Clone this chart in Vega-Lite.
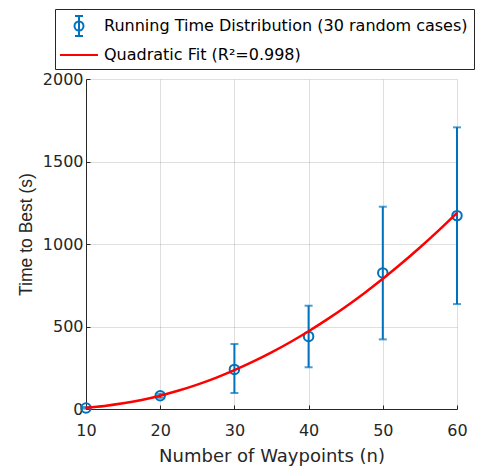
{
  "$schema": "https://vega.github.io/schema/vega-lite/v6.json",
  "width": 371,
  "height": 330,
  "autosize": "none",
  "padding": {"left": 86, "top": 79, "right": 24, "bottom": 57},
  "background": "white",
  "config": {
    "view": {"stroke": null},
    "axis": {
      "gridColor": "#262626",
      "gridOpacity": 0.15,
      "domainColor": "#262626",
      "tickColor": "#262626",
      "labelColor": "#262626",
      "titleColor": "#262626",
      "labelFont": "DejaVu Sans",
      "labelFontSize": 16,
      "labelFlush": false,
      "titleFontWeight": "normal"
    }
  },
  "datasets": {
    "runs": [
      {"n": 10, "mean": 6, "lo": 2, "hi": 12, "series": "Running Time Distribution (30 random cases)"},
      {"n": 20, "mean": 80, "lo": 68, "hi": 92, "series": "Running Time Distribution (30 random cases)"},
      {"n": 30, "mean": 240, "lo": 97, "hi": 394, "series": "Running Time Distribution (30 random cases)"},
      {"n": 40, "mean": 440, "lo": 253, "hi": 626, "series": "Running Time Distribution (30 random cases)"},
      {"n": 50, "mean": 825, "lo": 422, "hi": 1226, "series": "Running Time Distribution (30 random cases)"},
      {"n": 60, "mean": 1172, "lo": 636, "hi": 1707, "series": "Running Time Distribution (30 random cases)"}
    ],
    "fit": [
      {"n": 10, "t": 8.3, "series": "Quadratic Fit (R²=0.998)"},
      {"n": 12.5, "t": 18.8, "series": "Quadratic Fit (R²=0.998)"},
      {"n": 15, "t": 34.3, "series": "Quadratic Fit (R²=0.998)"},
      {"n": 17.5, "t": 55.0, "series": "Quadratic Fit (R²=0.998)"},
      {"n": 20, "t": 80.8, "series": "Quadratic Fit (R²=0.998)"},
      {"n": 22.5, "t": 111.7, "series": "Quadratic Fit (R²=0.998)"},
      {"n": 25, "t": 147.7, "series": "Quadratic Fit (R²=0.998)"},
      {"n": 27.5, "t": 188.8, "series": "Quadratic Fit (R²=0.998)"},
      {"n": 30, "t": 235.1, "series": "Quadratic Fit (R²=0.998)"},
      {"n": 32.5, "t": 286.5, "series": "Quadratic Fit (R²=0.998)"},
      {"n": 35, "t": 342.9, "series": "Quadratic Fit (R²=0.998)"},
      {"n": 37.5, "t": 404.5, "series": "Quadratic Fit (R²=0.998)"},
      {"n": 40, "t": 471.2, "series": "Quadratic Fit (R²=0.998)"},
      {"n": 42.5, "t": 543.0, "series": "Quadratic Fit (R²=0.998)"},
      {"n": 45, "t": 619.9, "series": "Quadratic Fit (R²=0.998)"},
      {"n": 47.5, "t": 701.9, "series": "Quadratic Fit (R²=0.998)"},
      {"n": 50, "t": 789.1, "series": "Quadratic Fit (R²=0.998)"},
      {"n": 52.5, "t": 881.4, "series": "Quadratic Fit (R²=0.998)"},
      {"n": 55, "t": 978.7, "series": "Quadratic Fit (R²=0.998)"},
      {"n": 57.5, "t": 1081.2, "series": "Quadratic Fit (R²=0.998)"},
      {"n": 60, "t": 1188.9, "series": "Quadratic Fit (R²=0.998)"}
    ]
  },
  "encoding": {
    "color": {
      "field": "series",
      "type": "nominal",
      "scale": {
        "domain": ["Running Time Distribution (30 random cases)", "Quadratic Fit (R²=0.998)"],
        "range": ["#0072BD", "#FF0000"]
      },
      "legend": {
        "title": null,
        "orient": "none",
        "legendX": -31,
        "legendY": -70,
        "direction": "vertical",
        "strokeColor": "#262626",
        "fillColor": "white",
        "padding": 6,
        "symbolOffset": 7,
        "labelOffset": 14,
        "rowPadding": 4,
        "symbolSize": 400,
        "symbolStrokeWidth": 2,
        "symbolFillColor": "transparent",
        "labelFont": "DejaVu Sans",
        "labelFontSize": 16,
        "labelColor": "#000000",
        "labelLimit": 0,
        "encode": {
          "symbols": {
            "update": {
              "shape": {"signal": "datum.index === 0 ? 'M0,-1V1M-0.4,-1H0.4M-0.4,1H0.4M0.45,0A0.45,0.45,0,1,1,-0.45,0A0.45,0.45,0,1,1,0.45,0' : 'M-1.9,0H1.9'"},
              "fill": {"value": "transparent"},
              "fillOpacity": {"value": 0},
              "stroke": {"scale": "color", "field": "value"},
              "strokeWidth": {"value": 2}
            }
          }
        }
      }
    }
  },
  "layer": [
    {
      "data": {"name": "runs"},
      "mark": {"type": "rule", "strokeWidth": 2},
      "encoding": {
        "x": {
          "field": "n",
          "type": "quantitative",
          "scale": {"domain": [10, 60], "nice": false},
          "axis": {
            "values": [10, 20, 30, 40, 50, 60],
            "title": "Number of Waypoints (n)",
            "titleFont": "DejaVu Sans",
            "titleFontSize": 18,
            "tickSize": -4,
            "labelPadding": 17,
            "titlePadding": 9
          }
        },
        "y": {
          "field": "lo",
          "type": "quantitative",
          "scale": {"domain": [0, 2000], "nice": false},
          "axis": {
            "values": [0, 500, 1000, 1500, 2000],
            "format": "d",
            "title": "Time to Best (s)",
            "titleFont": "Liberation Sans",
            "titleFontSize": 17.5,
            "titleY": 155,
            "tickSize": -4,
            "labelPadding": 7,
            "titlePadding": 7
          }
        },
        "y2": {"field": "hi"}
      }
    },
    {
      "data": {"name": "runs"},
      "mark": {"type": "tick", "orient": "horizontal", "size": 8, "thickness": 2},
      "encoding": {
        "x": {"field": "n", "type": "quantitative"},
        "y": {"field": "lo", "type": "quantitative"}
      }
    },
    {
      "data": {"name": "runs"},
      "mark": {"type": "tick", "orient": "horizontal", "size": 8, "thickness": 2},
      "encoding": {
        "x": {"field": "n", "type": "quantitative"},
        "y": {"field": "hi", "type": "quantitative"}
      }
    },
    {
      "data": {"name": "runs"},
      "mark": {"type": "point", "filled": false, "size": 90, "strokeWidth": 2, "opacity": 1},
      "encoding": {
        "x": {"field": "n", "type": "quantitative"},
        "y": {"field": "mean", "type": "quantitative"}
      }
    },
    {
      "data": {"name": "fit"},
      "mark": {"type": "line", "strokeWidth": 2.5, "interpolate": "monotone"},
      "encoding": {
        "x": {"field": "n", "type": "quantitative"},
        "y": {"field": "t", "type": "quantitative"}
      }
    }
  ]
}
